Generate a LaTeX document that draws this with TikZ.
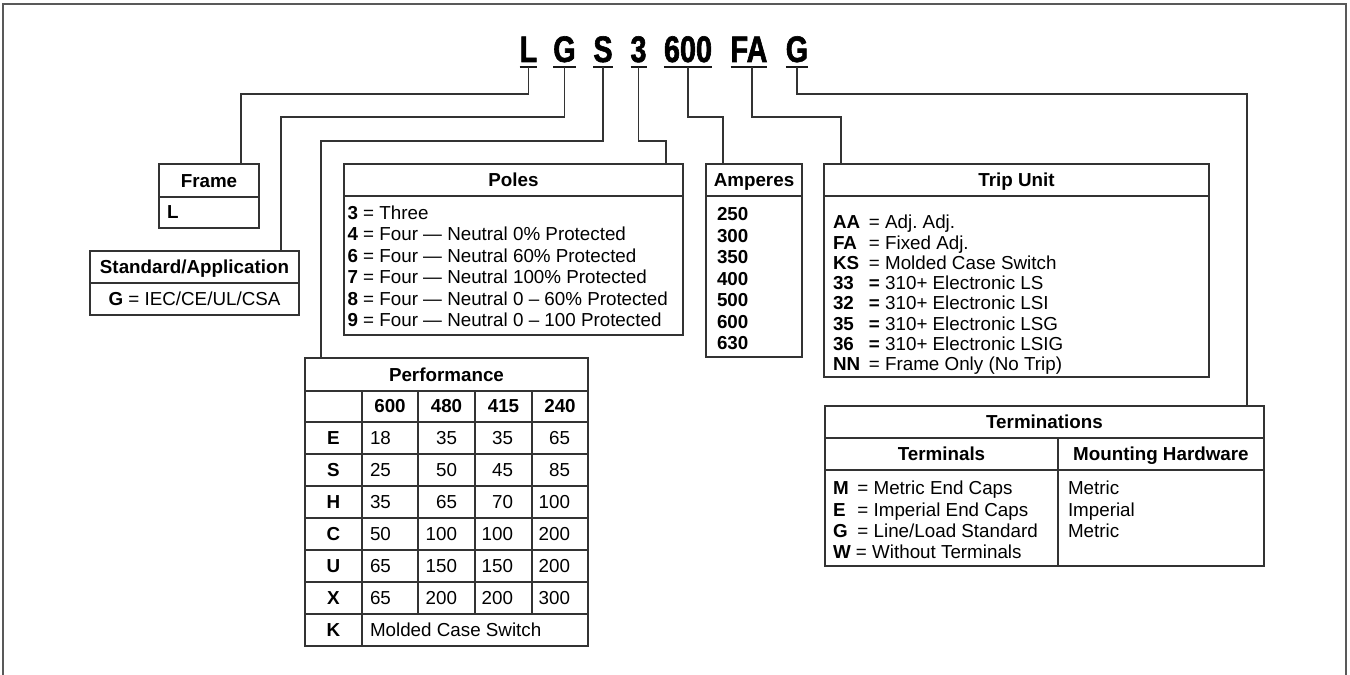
\documentclass[tikz,border=0pt]{standalone}
\usepackage{fontspec}
\setmainfont{Liberation Sans}
\newfontfamily\codefont{Liberation Sans}[FakeStretch=0.78, FakeBold=1.6]
\usetikzlibrary{positioning}

\begin{document}
\begin{tikzpicture}[
    x=0.02cm, y=-0.02cm,
    every node/.style={inner sep=0pt, outer sep=0pt},
    codechar/.style={
        anchor=base,
        font=\codefont\fontsize{21}{21}\selectfont\bfseries
    },
    uline/.style={line width=1.6pt, black!90},
    wire/.style={line width=0.85pt, black!80},
    hdr/.style={
        rectangle,
        draw=black!80,
        line width=0.85pt,
        anchor=north west,
        minimum width=#1,
        minimum height=0.64cm,
        text height=7.6pt,
        text depth=0pt,
        font=\fontsize{10.7}{12}\selectfont\bfseries
    },
    cellbox/.style={
        rectangle,
        draw=black!80,
        line width=0.85pt,
        anchor=north west,
        minimum width=#1
    },
    keylist/.style={
        anchor=base west,
        font=\fontsize{10.7}{#1}\selectfont
    },
    tabcell/.style={anchor=base, font=\fontsize{10.7}{12}\selectfont},
    tabhead/.style={anchor=base, font=\fontsize{10.7}{12}\selectfont\bfseries}
]
\useasboundingbox (0,0) rectangle (1350,675);

% Page frame (open at the bottom)
\draw[line width=1.1pt, black!65] (3,675) -- (3,4) -- (1346,4) -- (1346,675);

% Catalog number
\node[codechar] (codeL) at (528.5,62) {L};
\node[codechar] (codeG) at (564.5,62) {G};
\node[codechar] (codeS) at (603,62) {S};
\node[codechar] (codeP) at (638.5,62) {3};
\node[codechar] (codeA) at (688,62) {600};
\node[codechar] (codeT) at (749,62) {FA};
\node[codechar] (codeM) at (797,62) {G};
\foreach \c in {codeL,codeG,codeS,codeP,codeA,codeT,codeM}
    \draw[uline] ([yshift=-0.1cm]\c.base west) -- ([yshift=-0.1cm]\c.base east);

% Frame
\node[hdr=2cm, minimum height=0.66cm] (frameHead) at (159,164) {Frame};
\node[cellbox=2cm, minimum height=0.62cm] (frameBody) at (frameHead.south west) {};
\node[keylist=12] (frameKey) at (167,219) {\textbf{L}};

% Standard / application
\node[hdr=4.18cm] (stdHead) at (90,251) {Standard/Application};
\node[cellbox=4.18cm, minimum height=0.64cm] (stdBody) at (stdHead.south west) {};
\node[tabcell] (stdKey) at (194.5,306) {\textbf{G} = IEC/CE/UL/CSA};

% Poles
\node[hdr=6.78cm] (polesHead) at (344,164) {Poles};
\node[cellbox=6.78cm, minimum height=2.78cm] (polesBody) at (polesHead.south west) {};
\node[keylist=12.2] (polesKeys) at (347.5,219.5) {\begin{tabular}[t]{@{}l@{}}
    \textbf{3} = Three\\
    \textbf{4} = Four --- Neutral 0\% Protected\\
    \textbf{6} = Four --- Neutral 60\% Protected\\
    \textbf{7} = Four --- Neutral 100\% Protected\\
    \textbf{8} = Four --- Neutral 0 -- 60\% Protected\\
    \textbf{9} = Four --- Neutral 0 -- 100 Protected
\end{tabular}};

% Amperes
\node[hdr=1.92cm] (ampHead) at (706,164) {Amperes};
\node[cellbox=1.92cm, minimum height=3.22cm] (ampBody) at (ampHead.south west) {};
\node[keylist=12.2] (ampKeys) at (717,221) {\begin{tabular}[t]{@{}l@{}}
    \textbf{250}\\ \textbf{300}\\ \textbf{350}\\ \textbf{400}\\
    \textbf{500}\\ \textbf{600}\\ \textbf{630}
\end{tabular}};

% Trip unit
\node[hdr=7.7cm] (tripHead) at (824,164) {Trip Unit};
\node[cellbox=7.7cm, minimum height=3.62cm] (tripBody) at (tripHead.south west) {};
\node[keylist=11.5] (tripKeys) at (833,229) {\begin{tabular}[t]{@{}l@{\hspace{5pt}}l@{}}
    \textbf{AA} & = Adj.\ Adj.\\
    \textbf{FA} & = Fixed Adj.\\
    \textbf{KS} & = Molded Case Switch\\
    \textbf{33} & \textbf{=} 310+ Electronic LS\\
    \textbf{32} & \textbf{=} 310+ Electronic LSI\\
    \textbf{35} & \textbf{=} 310+ Electronic LSG\\
    \textbf{36} & \textbf{=} 310+ Electronic LSIG\\
    \textbf{NN} & = Frame Only (No Trip)
\end{tabular}};

% Terminations
\node[hdr=8.78cm] (termHead) at (825,406) {Terminations};
\node[hdr=4.66cm] (termSub) at (termHead.south west) {Terminals};
\node[hdr=4.12cm] (mountSub) at (termSub.north east) {Mounting Hardware};
\node[cellbox=4.66cm, minimum height=1.92cm] (termBody) at (termSub.south west) {};
\node[cellbox=4.12cm, minimum height=1.92cm] (mountBody) at (mountSub.south west) {};
\node[keylist=12] (termKeys) at (833,495) {\begin{tabular}[t]{@{}l@{\hspace{5pt}}l@{}}
    \textbf{M} & = Metric End Caps\\
    \textbf{E} & = Imperial End Caps\\
    \textbf{G} & = Line/Load Standard\\
    \multicolumn{2}{@{}l@{}}{\textbf{W} = Without Terminals}
\end{tabular}};
\node[keylist=12] (mountKeys) at (1068,495) {\begin{tabular}[t]{@{}l@{}}
    Metric\\ Imperial\\ Metric
\end{tabular}};

% Performance table
\node[hdr=5.66cm, minimum height=0.66cm] (perfHead) at (305,358) {Performance};
\node[cellbox=5.66cm, minimum height=5.1cm] (perfBody) at (perfHead.south west) {};
\foreach \y in {422,454,...,614}
    \draw[wire] (305,\y) -- (588,\y);
\draw[wire] (362,391) -- (362,646);
\foreach \x in {418,475,532}
    \draw[wire] (\x,391) -- (\x,614);
\foreach \v/\x in {600/390,480/446.5,415/503.5,240/560}
    \node[tabhead] (volt\v) at (\x,413) {\v};
\foreach \r/\a/\b/\c/\d [count=\i] in {E/18/35/35/65, S/25/50/45/85, H/35/65/70/100,
        C/50/100/100/200, U/65/150/150/200, X/65/200/200/300} {
    \node[tabhead] (row\r) at (333.5,412.5+32*\i) {\r};
    \node[tabcell, anchor=base west] (val\r a) at (370,412.5+32*\i) {\a};
    \node[tabcell, anchor=base east] (val\r b) at (457,412.5+32*\i) {\b};
    \node[tabcell, anchor=base east] (val\r c) at (513,412.5+32*\i) {\c};
    \node[tabcell, anchor=base east] (val\r d) at (570,412.5+32*\i) {\d};
}
\node[tabhead] (rowK) at (333.5,636.5) {K};
\node[tabcell, anchor=base west] (valK) at (370,636.5) {Molded Case Switch};

% Leaders from each code letter to its key
\draw[wire] ([yshift=-0.1cm]codeL.base) -- ++(0,27) -| ([xshift=-0.36cm]frameHead.north east);
\draw[wire] ([yshift=-0.1cm]codeG.base) -- ++(0,50) -| ([xshift=-0.36cm]stdHead.north east);
\draw[wire] ([yshift=-0.1cm]codeS.base) -- ++(0,74) -| ([xshift=0.32cm]perfHead.north west);
\draw[wire] ([yshift=-0.1cm]codeP.base) -- ++(0,74) -| ([xshift=-0.34cm]polesHead.north east);
\draw[wire] ([yshift=-0.1cm]codeA.base) -- ++(0,50) -| ([xshift=0.34cm]ampHead.north west);
\draw[wire] ([xshift=0.06cm,yshift=-0.1cm]codeT.base) -- ++(0,50) -| ([xshift=0.34cm]tripHead.north west);
\draw[wire] ([yshift=-0.1cm]codeM.base) -- ++(0,27) -| ([xshift=-0.34cm]termHead.north east);

\end{tikzpicture}
\end{document}
